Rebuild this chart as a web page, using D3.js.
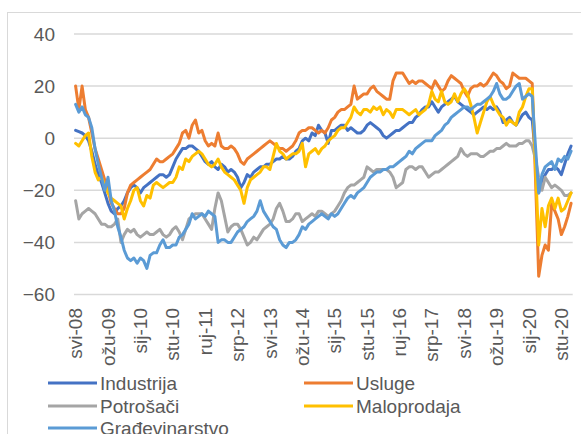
<!DOCTYPE html>
<html>
<head>
<meta charset="utf-8">
<script src="https://cdn.jsdelivr.net/npm/d3@7"></script>
<style>
  html, body { margin: 0; padding: 0; background: #fff; }
  svg { display: block; }
  text { font-family: "Liberation Sans", Arial, sans-serif; fill: #595959; }
</style>
</head>
<body>
<div id="chart"></div>
<script>
// ---- Data (monthly, May 2008 – Feb 2021) ----
const monthNames = ["sij","velj","ožu","tra","svi","lip","srp","kol","ruj","lis","stu","pro"];
const startYear = 2008, startMonth = 4, nMonths = 154;
const categories = d3.range(nMonths).map(i => {
  const m = (startMonth + i) % 12, y = startYear + Math.floor((startMonth + i) / 12);
  return monthNames[m] + "-" + String(y).slice(2);
});
const tickLabels = ["svi-08","ožu-09","sij-10","stu-10","ruj-11","srp-12","svi-13","ožu-14","sij-15","stu-15","ruj-16","srp-17","svi-18","ožu-19","sij-20","stu-20"];
const yTicks = [-60, -40, -20, 0, 20, 40];

const industrija = [
  3, 2.5, 2, 1, -1, -5, -10, -14, -17, -21,
  -25, -28, -29, -27, -26, -24, -21, -19, -18, -19,
  -21, -19, -18, -17, -16, -15, -14, -14, -15, -14,
  -11, -8, -6, -4, -4, -3, -3, -4, -5, -7,
  -9, -10, -9, -11, -12, -10, -11, -13, -12, -13,
  -15, -19, -17, -14, -15, -13, -12, -11, -11, -10,
  -10, -9, -8, -8, -7, -8, -8, -7, -5, -4,
  -1, 0, -1, 2, 1, 5, 3, 2, -2, 3,
  3, 4, 5, 5, 3, 4, 3, 2, 2, 3,
  5, 6, 5, 4, 3, 1, 0, 1, 2, 3,
  3, 4, 5, 6, 6, 8, 9, 11, 12, 12,
  14, 12, 10, 12, 13, 14, 15, 16, 14, 13,
  12, 11, 10, 9, 10, 11, 12, 11, 12, 11,
  12, 10, 6, 7, 8, 6, 5, 7, 9, 10,
  8, 7, -7, -21, -16, -14, -12, -12, -11, -12,
  -14, -10, -6, -3
];
const usluge = [
  20, 11, 20, 11, 8, 2, -4, -8, -12, -16,
  -20, -25, -27, -29, -29, -27, -21, -18, -17, -16,
  -15, -14, -13, -12, -10, -8, -9, -9, -8, -7,
  -6, -4, -2, 2, 3, 0, 5, 7, 2, 3,
  -1, -3, -2, -3, 2, -3, -4, -4, -3, -4,
  -6, -9, -10, -8, -7, -6, -5, -4, -3, -2,
  -1, -2, -3, -4, -4, -5, -4, -3, -1, 2,
  3, 3, 4, 4, 3, 2, 3, 2, 4, 7,
  8, 10, 11, 11, 12, 13, 20, 15, 16, 17,
  17, 19, 20, 18, 17, 16, 15, 15, 22, 25,
  25, 25, 23, 21, 22, 21, 22, 22, 21, 20,
  19, 22, 20, 18, 19, 22, 24, 23, 22, 21,
  18, 16, 19, 20, 20, 21, 20, 21, 23, 25,
  24, 22, 21, 19, 20, 25, 24, 23, 23, 23,
  22, 21, -15, -53, -45, -41, -43, -25, -28, -31,
  -37, -34, -30, -25
];
const potrosaci = [
  -24, -31, -29, -28, -27, -28, -29, -31, -33, -33,
  -34, -34, -33, -31, -40, -37, -35, -36, -35, -37,
  -38, -37, -36, -37, -37, -36, -35, -37, -38, -37,
  -35, -34, -36, -39, -35, -31, -30, -29, -29, -29,
  -31, -33, -35, -27, -21, -24, -30, -36, -34, -33,
  -33, -35, -38, -41, -40, -38, -39, -37, -35, -34,
  -33, -31, -27, -25, -28, -32, -32, -31, -29, -29,
  -32, -31, -30, -29, -30, -28, -28, -29, -30, -29,
  -28, -26, -24, -21, -19, -18, -18, -17, -16, -15,
  -11, -12, -13, -12, -12, -12, -12, -13, -15, -19,
  -18, -17, -12, -11, -11, -12, -11, -11, -13, -15,
  -14, -13, -13, -12, -11, -10, -9, -8, -7, -4,
  -6, -7, -6, -6, -6, -7, -7, -6, -5, -5,
  -4, -4, -3, -2, -3, -3, -3, -2, -2, -1,
  -1, -3, -8, -15, -20, -15, -17, -19, -18, -19,
  -20, -22, -22, -21
];
const maloprodaja = [
  -2, -3, -1, 1, 2, -7, -13, -16, -15, -18,
  -21, -23, -24, -25, -26, -31, -27, -24, -20, -19,
  -24, -26, -22, -23, -18, -17, -18, -19, -18, -17,
  -17, -15, -11, -12, -8, -9, -7, -6, -5, -6,
  -8, -10, -11, -10, -8, -11, -13, -14, -15, -16,
  -18, -20, -25, -19, -16, -15, -14, -13, -11, -11,
  -12, -7, -2, -5, -6, -8, -7, -6, -6, -5,
  -2, -11, -6, -5, -4, -6, -4, -3, -1, 0,
  1, 3, 4, 4, 6, 8, 12, 10, 9, 11,
  11, 10, 12, 11, 12, 9, 11, 10, 8, 11,
  11, 11, 10, 9, 10, 11, 9, 10, 11, 13,
  18, 15, 14, 18, 14, 13, 14, 17, 14, 17,
  19, 17, 13, 8, 2, 6, 10, 14, 16, 13,
  11, 9, 8, 5, 7, 6, 5, 10, 12, 16,
  19, 19, -10, -41, -27, -34, -26, -23, -27, -23,
  -28, -27, -24, -21
];
const gradevinarstvo = [
  13, 10, 12, 9, 8, 4, -4, -10, -15, -20,
  -15, -24, -28, -34, -38, -43, -46, -47, -46, -48,
  -46, -47, -50, -45, -44, -44, -41, -39, -42, -42,
  -41, -41, -38, -37, -35, -33, -29, -31, -30, -29,
  -30, -28, -29, -30, -40, -39, -39, -40, -40, -38,
  -36, -35, -34, -32, -31, -30, -28, -24, -28, -30,
  -32, -34, -35, -39, -41, -42, -40, -40, -39, -37,
  -34, -35, -33, -32, -31, -30, -29, -30, -31, -29,
  -30, -29, -27, -25, -23, -22, -23, -21, -20, -19,
  -17, -15, -14, -13, -13, -12, -12, -11, -11, -10,
  -9, -8, -7, -5, -6, -4, -3, -2, -1, -1,
  -1, 1, 2, 3, 5, 6, 8, 9, 10, 11,
  12, 12, 11, 12, 13, 13, 14, 15, 16, 18,
  21, 17, 15, 15, 16, 18, 20, 21, 15, 16,
  17, 16, -3, -21, -14, -11, -10, -9, -12, -8,
  -9, -7, -8, -5
];

const seriesNames = ["Industrija", "Usluge", "Potrošači", "Maloprodaja", "Građevinarstvo"];
const seriesColors = ["#4472C4", "#ED7D31", "#A5A5A5", "#FFC000", "#5B9BD5"];
const seriesData = [industrija, usluge, potrosaci, maloprodaja, gradevinarstvo];

// ---- Chart ----
const W = 581, H = 434;
const svg = d3.select("#chart").append("svg").attr("width", W).attr("height", H);
svg.append("rect").attr("width", W).attr("height", H).attr("fill", "#fff");
svg.append("rect").attr("x", 7.5).attr("y", 12.5).attr("width", 600).attr("height", 500)
  .attr("fill", "none").attr("stroke", "#d9d9d9").attr("stroke-width", 1);

const x = d3.scaleBand().domain(d3.range(nMonths)).range([74, 572.7]);
const xc = i => x(i) + x.bandwidth() / 2;
const y = d3.scaleLinear().domain([-60, 40]).range([294.5, 34]);

// gridlines
svg.append("g").selectAll("line").data(yTicks).join("line")
  .attr("x1", 74).attr("x2", 572.7)
  .attr("y1", d => y(d)).attr("y2", d => y(d))
  .attr("stroke", "#d9d9d9").attr("stroke-width", 1.5);

// y axis labels
const yAxis = d3.axisLeft(y).tickValues(yTicks).tickSize(0).tickPadding(0).tickFormat(d3.format("d"));
const gy = svg.append("g").attr("transform", "translate(55,0)").call(yAxis);
gy.select(".domain").remove();
gy.selectAll("text").attr("font-size", 19).attr("fill", "#595959")
  .style("font-family", "'Liberation Sans', Arial, sans-serif");

// x axis labels (rotated)
const tickIdx = tickLabels.map(l => categories.indexOf(l));
const gx = svg.append("g");
gx.selectAll("text").data(tickIdx).join("text")
  .attr("transform", d => `translate(${xc(d)},308) rotate(-90)`)
  .attr("text-anchor", "end").attr("dy", "0.35em")
  .attr("font-size", 19)
  .text(d => categories[d]);

// lines
const line = d3.line().x((d, i) => xc(i)).y(d => y(d)).curve(d3.curveLinear);
svg.append("g").selectAll("path").data(seriesData).join("path")
  .attr("d", d => line(d))
  .attr("fill", "none")
  .attr("stroke", (d, i) => seriesColors[i])
  .attr("stroke-width", 3)
  .attr("stroke-linejoin", "round")
  .attr("stroke-linecap", "round");

// legend
const legPos = [[48, 383], [304, 383], [48, 406], [304, 406], [48, 428]];
const leg = svg.append("g").selectAll("g").data(seriesNames).join("g")
  .attr("transform", (d, i) => `translate(${legPos[i][0]},${legPos[i][1]})`);
leg.append("line").attr("x1", 0).attr("x2", 49).attr("y1", 0).attr("y2", 0)
  .attr("stroke", (d, i) => seriesColors[i]).attr("stroke-width", 3);
leg.append("text").attr("x", 52).attr("dy", "0.35em").attr("font-size", 19).text(d => d);
</script>
</body>
</html>
